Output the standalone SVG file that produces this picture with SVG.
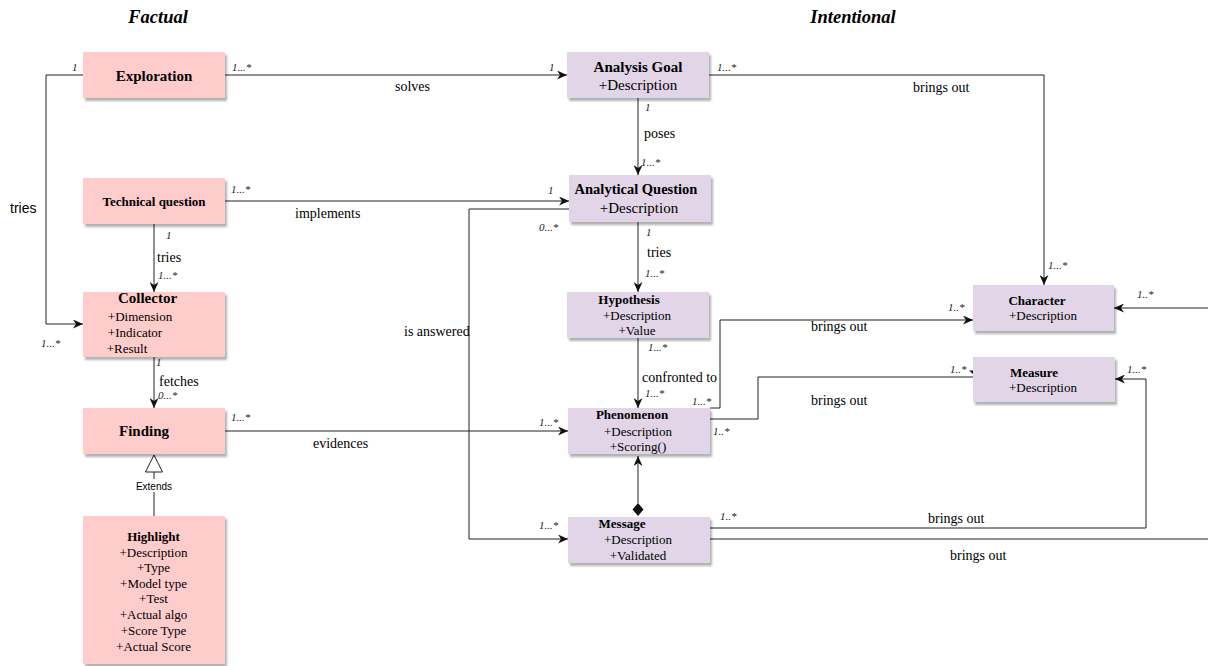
<svg xmlns="http://www.w3.org/2000/svg" width="1208" height="666" viewBox="0 0 1208 666">
  <defs>
    <filter id="shadow" x="-10%" y="-10%" width="130%" height="130%">
      <feDropShadow dx="2" dy="3" stdDeviation="0.8" flood-color="#000" flood-opacity="0.3"/>
    </filter>
    <marker id="arrow" markerWidth="11" markerHeight="9" refX="10" refY="4.5" orient="auto" markerUnits="userSpaceOnUse">
      <path d="M0,0 L10,4.5 L0,9 L3,4.5 Z" fill="#111"/>
    </marker>
  </defs>
  <style>
    .factual { fill: #ffcccc; filter: url(#shadow); }
    .intent { fill: #e1d5e7; filter: url(#shadow); }
    .title { font-family: "Liberation Serif", serif; font-weight: bold; font-style: italic; font-size: 18.5px; fill: #000; text-anchor: middle; }
    .name { font-family: "Liberation Serif", serif; font-weight: bold; font-size: 13px; fill: #000; text-anchor: middle; }
    .name15 { font-family: "Liberation Serif", serif; font-weight: bold; font-size: 15px; fill: #000; text-anchor: middle; }
    .attr { font-family: "Liberation Serif", serif; font-size: 13px; fill: #000; text-anchor: middle; }
    .attr15 { font-family: "Liberation Serif", serif; font-size: 15px; fill: #000; text-anchor: middle; }
    .lbl { font-family: "Liberation Serif", serif; font-size: 14px; fill: #000; }
    .mult { font-family: "Liberation Serif", serif; font-style: italic; font-size: 11px; fill: #222; }
    .sans { font-family: "Liberation Sans", sans-serif; fill: #000; }
    .edge { fill: none; stroke: #222; stroke-width: 1; }
  </style>

  <!-- column headings -->
  <text class="title" x="158" y="23">Factual</text>
  <text class="title" x="853" y="23">Intentional</text>

  <!-- connectors -->
  <g id="connectors">
    <path class="edge" d="M83,75 H46 V324 H83" marker-end="url(#arrow)"/>
    <path class="edge" d="M225,75 H567" marker-end="url(#arrow)"/>
    <path class="edge" d="M225,201 H569" marker-end="url(#arrow)"/>
    <path class="edge" d="M154,224 V292" marker-end="url(#arrow)"/>
    <path class="edge" d="M154,357 V408" marker-end="url(#arrow)"/>
    <!-- generalization Highlight -> Finding -->
    <path class="edge" d="M154,472 V516"/>
    <polygon points="154,455 145.5,472 162.5,472" fill="#fff" stroke="#222" stroke-width="1"/>
    <path class="edge" d="M638,98 V175" marker-end="url(#arrow)"/>
    <path class="edge" d="M709,75 H1044 V285" marker-end="url(#arrow)"/>
    <path class="edge" d="M569,209 H469 V539 H568" marker-end="url(#arrow)"/>
    <path class="edge" d="M638,222 V292" marker-end="url(#arrow)"/>
    <path class="edge" d="M638,338 V408" marker-end="url(#arrow)"/>
    <path class="edge" d="M225,431 H568" marker-end="url(#arrow)"/>
    <path class="edge" d="M710,408 H720 V320 H973" marker-end="url(#arrow)"/>
    <path class="edge" d="M710,419 H758 V377 H973"/>
    <polygon points="969,370.5 977,370.5 973,378 973,374" fill="#111"/>
    <!-- composition Message -> Phenomenon -->
    <path class="edge" d="M638,503 V456" marker-end="url(#arrow)"/>
    <polygon points="638,503 643.5,509.5 638,516 632.5,509.5" fill="#111"/>
    <path class="edge" d="M710,528 H1146 V379 H1115" marker-end="url(#arrow)"/>
    <path class="edge" d="M710,539 H1214 V308 H1114" marker-end="url(#arrow)"/>
  </g>

  <!-- connector labels -->
  <g id="labels">
    <text class="sans" x="10" y="213" font-size="14">tries</text>
    <text class="lbl" x="395" y="91">solves</text>
    <text class="lbl" x="295" y="218">implements</text>
    <text class="lbl" x="644" y="138">poses</text>
    <text class="lbl" x="647" y="257">tries</text>
    <text class="lbl" x="642" y="382">confronted to</text>
    <text class="lbl" x="404" y="336">is answered</text>
    <text class="lbl" x="313" y="448">evidences</text>
    <text class="lbl" x="157" y="262">tries</text>
    <text class="lbl" x="159" y="386">fetches</text>
    <text class="lbl" x="913" y="92">brings out</text>
    <text class="lbl" x="811" y="331">brings out</text>
    <text class="lbl" x="811" y="405">brings out</text>
    <text class="lbl" x="928" y="523">brings out</text>
    <text class="lbl" x="950" y="560">brings out</text>
    <rect x="134" y="479" width="40" height="13" fill="#fff"/>
    <text class="sans" x="154" y="489.5" font-size="10" text-anchor="middle">Extends</text>

    <text class="mult" x="72" y="71">1</text>
    <text class="mult" x="232" y="71">1...*</text>
    <text class="mult" x="549" y="71">1</text>
    <text class="mult" x="717" y="71">1...*</text>
    <text class="mult" x="645" y="111">1</text>
    <text class="mult" x="641" y="166">1...*</text>
    <text class="mult" x="231" y="193">1...*</text>
    <text class="mult" x="548" y="194">1</text>
    <text class="mult" x="539" y="231">0...*</text>
    <text class="mult" x="646" y="236">1</text>
    <text class="mult" x="645" y="277">1...*</text>
    <text class="mult" x="648" y="351">1...*</text>
    <text class="mult" x="645" y="397">1...*</text>
    <text class="mult" x="692" y="405">1...*</text>
    <text class="mult" x="713" y="435">1..*</text>
    <text class="mult" x="539" y="426">1...*</text>
    <text class="mult" x="231" y="421">1...*</text>
    <text class="mult" x="166" y="239">1</text>
    <text class="mult" x="158" y="279">1...*</text>
    <text class="mult" x="41" y="347">1...*</text>
    <text class="mult" x="156" y="366">1</text>
    <text class="mult" x="158" y="399">0...*</text>
    <text class="mult" x="1048" y="269">1...*</text>
    <text class="mult" x="948" y="311">1..*</text>
    <text class="mult" x="1137" y="298">1..*</text>
    <text class="mult" x="950" y="373">1..*</text>
    <text class="mult" x="1127" y="373">1...*</text>
    <text class="mult" x="539" y="529">1...*</text>
    <text class="mult" x="720" y="520">1..*</text>
  </g>

  <!-- factual classes -->
  <g id="exploration">
    <rect class="factual" x="83" y="52" width="142" height="46"/>
    <text class="name15" x="154" y="81">Exploration</text>
  </g>
  <g id="technical-question">
    <rect class="factual" x="83" y="178" width="142" height="46"/>
    <text class="name" x="154" y="206">Technical question</text>
  </g>
  <g id="collector">
    <rect class="factual" x="83" y="292" width="142" height="65"/>
    <text class="name15" x="147.5" y="303">Collector</text>
    <text class="attr" x="140" y="320.5">+Dimension</text>
    <text class="attr" x="135" y="336.5">+Indicator</text>
    <text class="attr" x="127" y="352.5">+Result</text>
  </g>
  <g id="finding">
    <rect class="factual" x="83" y="408" width="142" height="46"/>
    <text class="name15" x="144" y="436">Finding</text>
  </g>
  <g id="highlight">
    <rect class="factual" x="83" y="516" width="142" height="148"/>
    <text class="name" x="153.5" y="540.5">Highlight</text>
    <text class="attr" x="153.5" y="556.5">+Description</text>
    <text class="attr" x="153.5" y="571.5">+Type</text>
    <text class="attr" x="153.5" y="587.5">+Model type</text>
    <text class="attr" x="153.5" y="602.5">+Test</text>
    <text class="attr" x="153.5" y="618.5">+Actual algo</text>
    <text class="attr" x="153.5" y="634.5">+Score Type</text>
    <text class="attr" x="153.5" y="650.5">+Actual Score</text>
  </g>

  <!-- intentional classes -->
  <g id="analysis-goal">
    <rect class="intent" x="567" y="52" width="142" height="46"/>
    <text class="name15" x="638" y="72">Analysis Goal</text>
    <text class="attr15" x="638" y="90">+Description</text>
  </g>
  <g id="analytical-question">
    <rect class="intent" x="569" y="175" width="142" height="47"/>
    <text class="name15" x="636" y="194" style="font-size:14.5px">Analytical Question</text>
    <text class="attr15" x="639" y="213">+Description</text>
  </g>
  <g id="hypothesis">
    <rect class="intent" x="567" y="292" width="142" height="46"/>
    <text class="name" x="629" y="303.5">Hypothesis</text>
    <text class="attr" x="637" y="319.5">+Description</text>
    <text class="attr" x="637" y="334.5">+Value</text>
  </g>
  <g id="phenomenon">
    <rect class="intent" x="568" y="408" width="142" height="46"/>
    <text class="name" x="632" y="418.5">Phenomenon</text>
    <text class="attr" x="638" y="435.5">+Description</text>
    <text class="attr" x="638" y="451">+Scoring()</text>
  </g>
  <g id="message">
    <rect class="intent" x="568" y="517" width="142" height="46"/>
    <text class="name" x="622" y="527.5">Message</text>
    <text class="attr" x="638" y="543.5">+Description</text>
    <text class="attr" x="638" y="559.5">+Validated</text>
  </g>
  <g id="character">
    <rect class="intent" x="973" y="285" width="141" height="46"/>
    <text class="name" x="1037" y="304.5">Character</text>
    <text class="attr" x="1043" y="319.5">+Description</text>
  </g>
  <g id="measure">
    <rect class="intent" x="973" y="357" width="142" height="45"/>
    <text class="name" x="1034" y="376.5">Measure</text>
    <text class="attr" x="1043" y="391.5">+Description</text>
  </g>
</svg>
